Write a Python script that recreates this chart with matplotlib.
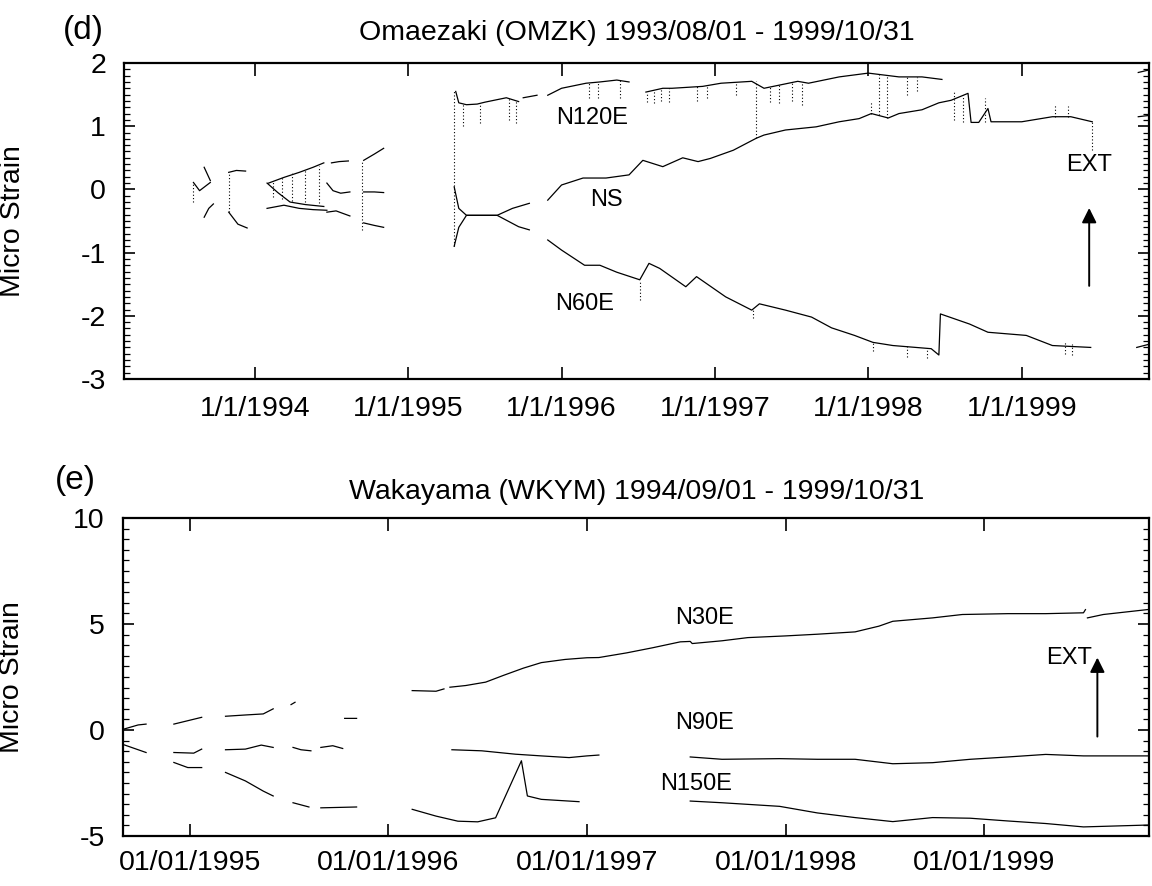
import numpy as np
import matplotlib
matplotlib.use("Agg")
import matplotlib.pyplot as plt
from matplotlib.ticker import MultipleLocator, FixedLocator

plt.rcParams['font.family'] = ['Liberation Sans', 'DejaVu Sans']
plt.rcParams['axes.unicode_minus'] = False

nan = np.nan

# ---- (d) Omaezaki, x in decimal years, gaps = nan
omzk_n120e_year = [1993.67, 1993.71, nan, 1993.83, 1993.88, 1993.94, nan,
                   1994.09, 1994.19, 1994.29, 1994.38, 1994.45, nan,
                   1994.50, 1994.55, 1994.61, nan,
                   1994.71, 1994.78, 1994.84, nan,
                   1995.31, 1995.33, 1995.38, 1995.45, 1995.50, 1995.64, 1995.72, nan,
                   1995.75, 1995.84, nan,
                   1995.91, 1996.00, 1996.16, 1996.25, 1996.36, 1996.44, nan,
                   1996.55, 1996.66, 1996.72, 1996.92, 1997.04,
                   1997.24, 1997.32, 1997.54, 1997.61, 1997.81, 1998.00, 1998.20, 1998.35, 1998.48, nan,
                   1999.76, 1999.83]
omzk_n120e_val = [0.35, 0.14, nan, 0.27, 0.30, 0.29, nan,
                  0.10, 0.19, 0.27, 0.35, 0.42, nan,
                  0.42, 0.44, 0.45, nan,
                  0.46, 0.56, 0.65, nan,
                  1.55, 1.37, 1.34, 1.35, 1.38, 1.45, 1.39, nan,
                  1.45, 1.49, nan,
                  1.49, 1.60, 1.68, 1.70, 1.73, 1.70, nan,
                  1.54, 1.60, 1.60, 1.63, 1.68,
                  1.71, 1.60, 1.71, 1.68, 1.78, 1.84, 1.78, 1.78, 1.74, nan,
                  1.85, 1.89]

omzk_ns_year = [1993.60, 1993.64, 1993.71, nan,
                1994.08, 1994.15, 1994.23, 1994.33, 1994.45, nan,
                1994.47, 1994.51, 1994.56, 1994.62, nan,
                1994.71, 1994.78, 1994.84, nan,
                1995.30, 1995.33, 1995.38, 1995.58, 1995.68, 1995.79, nan,
                1995.91, 1996.00, 1996.14, 1996.29, 1996.44, 1996.53, 1996.66, 1996.79, 1996.89,
                1996.97, 1997.12, 1997.27, 1997.32, 1997.46, 1997.66, 1997.81, 1997.94, 1998.02,
                1998.13, 1998.20, 1998.35, 1998.46, 1998.54, 1998.65, 1998.67, 1998.72, 1998.78,
                1998.80, 1998.85, 1999.00, 1999.20, 1999.32, 1999.46, nan,
                1999.76, 1999.83]
omzk_ns_val = [0.11, -0.02, 0.11, nan,
               0.10, -0.05, -0.20, -0.24, -0.27, nan,
               0.10, -0.02, -0.06, -0.04, nan,
               -0.04, -0.04, -0.05, nan,
               0.04, -0.30, -0.41, -0.41, -0.30, -0.22, nan,
               -0.17, 0.07, 0.18, 0.18, 0.23, 0.46, 0.36, 0.50, 0.44,
               0.49, 0.62, 0.81, 0.86, 0.94, 0.99, 1.07, 1.12, 1.20,
               1.13, 1.20, 1.26, 1.37, 1.41, 1.52, 1.06, 1.06, 1.28,
               1.07, 1.07, 1.07, 1.15, 1.15, 1.07, nan,
               1.15, 1.17]

omzk_n60e_year = [1993.67, 1993.70, 1993.73, nan,
                  1993.83, 1993.89, 1993.95, nan,
                  1994.08, 1994.19, 1994.29, 1994.38, 1994.47, nan,
                  1994.47, 1994.53, 1994.62, nan,
                  1994.71, 1994.78, 1994.84, nan,
                  1995.30, 1995.33, 1995.38, 1995.58, 1995.72, 1995.79, nan,
                  1995.91, 1996.00, 1996.15, 1996.25, 1996.36, 1996.51, 1996.57, 1996.64, 1996.81,
                  1996.88, 1997.07, 1997.24, 1997.29, 1997.46, 1997.63, 1997.76, 1997.91, 1998.03,
                  1998.16, 1998.41, 1998.46, 1998.47, 1998.66, 1998.78, 1999.03, 1999.20, 1999.45, nan,
                  1999.75, 1999.83]
omzk_n60e_val = [-0.44, -0.30, -0.23, nan,
                 -0.36, -0.55, -0.61, nan,
                 -0.30, -0.25, -0.30, -0.32, -0.33, nan,
                 -0.36, -0.34, -0.42, nan,
                 -0.53, -0.57, -0.60, nan,
                 -0.90, -0.60, -0.41, -0.41, -0.59, -0.64, nan,
                 -0.80, -0.96, -1.20, -1.20, -1.31, -1.43, -1.17, -1.25, -1.54,
                 -1.38, -1.70, -1.91, -1.81, -1.91, -2.02, -2.19, -2.31, -2.42,
                 -2.47, -2.52, -2.62, -1.97, -2.13, -2.26, -2.31, -2.47, -2.50, nan,
                 -2.50, -2.45]

# short dotted spikes (year, from, to)
omzk_spike_year = [1993.60, 1993.83, 1994.12, 1994.18, 1994.24, 1994.33, 1994.42, 1994.70,
                   1995.30, 1995.36, 1995.47, 1995.66, 1995.70, 1996.18, 1996.24, 1996.38,
                   1996.56, 1996.60, 1996.65, 1996.70, 1996.88, 1996.95, 1997.14, 1997.27,
                   1997.36, 1997.42, 1997.50, 1997.57, 1998.07, 1998.12, 1998.25, 1998.32,
                   1996.51, 1997.25, 1998.03, 1998.25, 1998.38, 1999.28, 1999.33,
                   1998.02, 1998.56, 1998.62, 1998.76, 1999.22, 1999.30, 1999.46]
omzk_spike_top = [0.10, 0.27, 0.14, 0.22, 0.27, 0.32, 0.37, 0.46,
                  1.55, 1.37, 1.37, 1.45, 1.42, 1.68, 1.70, 1.73,
                  1.54, 1.57, 1.60, 1.60, 1.63, 1.65, 1.69, 1.71,
                  1.62, 1.66, 1.70, 1.70, 1.84, 1.80, 1.78, 1.78,
                  -1.43, -1.91, -2.42, -2.48, -2.52, -2.40, -2.45,
                  1.40, 1.55, 1.50, 1.45, 1.35, 1.32, 1.07]
omzk_spike_bot = [-0.20, -0.36, -0.12, -0.15, -0.18, -0.20, -0.22, -0.65,
                  -0.90, 1.00, 1.05, 1.10, 1.05, 1.44, 1.45, 1.44,
                  1.38, 1.36, 1.40, 1.39, 1.40, 1.45, 1.50, 0.81,
                  1.38, 1.36, 1.40, 1.34, 1.18, 1.13, 1.50, 1.55,
                  -1.75, -2.04, -2.55, -2.65, -2.66, -2.60, -2.62,
                  1.20, 1.10, 1.06, 1.07, 1.15, 1.15, 0.62]

# ---- (e) Wakayama
wkym_n30e_year = [1994.67, 1994.74, 1994.78, nan, 1994.92, 1994.99, 1995.06, nan,
                  1995.18, 1995.28, 1995.37, 1995.42, nan, 1995.51, 1995.53, nan,
                  1995.78, 1995.84, nan, 1996.12, 1996.24, 1996.28, nan,
                  1996.31, 1996.39, 1996.49, 1996.58, 1996.68, 1996.77, 1996.89, 1997.00,
                  1997.06, 1997.20, 1997.33, 1997.47, 1997.52, 1997.53, 1997.68, 1997.81,
                  1998.00, 1998.16, 1998.35, 1998.47, 1998.54, 1998.74, 1998.89, 1999.12,
                  1999.31, 1999.50, 1999.51, nan, 1999.52, 1999.60, 1999.83]
wkym_n30e_val = [0.05, 0.24, 0.28, nan, 0.28, 0.44, 0.60, nan,
                 0.65, 0.71, 0.76, 1.00, nan, 1.20, 1.31, nan,
                 0.55, 0.55, nan, 1.86, 1.83, 1.94, nan,
                 2.02, 2.10, 2.26, 2.58, 2.92, 3.18, 3.33, 3.41,
                 3.42, 3.64, 3.88, 4.16, 4.18, 4.08, 4.21, 4.36,
                 4.44, 4.52, 4.63, 4.90, 5.13, 5.29, 5.45, 5.49,
                 5.49, 5.53, 5.68, nan, 5.29, 5.45, 5.69]

wkym_n90e_year = [1994.67, 1994.78, nan, 1994.92, 1995.02, 1995.06, nan,
                  1995.18, 1995.28, 1995.36, 1995.42, nan, 1995.52, 1995.56, 1995.61, nan,
                  1995.66, 1995.72, 1995.77, nan,
                  1996.32, 1996.47, 1996.64, 1996.77, 1996.91, 1997.00, 1997.06, nan,
                  1997.52, 1997.68, 1997.97, 1998.16, 1998.35, 1998.54, 1998.74, 1998.93,
                  1999.12, 1999.31, 1999.50, 1999.83]
wkym_n90e_val = [-0.70, -1.06, nan, -1.06, -1.09, -0.90, nan,
                 -0.93, -0.90, -0.71, -0.82, nan, -0.82, -0.93, -0.98, nan,
                 -0.82, -0.74, -0.87, nan,
                 -0.93, -0.98, -1.14, -1.22, -1.30, -1.22, -1.18, nan,
                 -1.27, -1.38, -1.35, -1.38, -1.38, -1.59, -1.54, -1.38,
                 -1.27, -1.15, -1.22, -1.22]

wkym_n150e_year = [1994.92, 1994.99, 1995.06, nan, 1995.18, 1995.28, 1995.37, 1995.42, nan,
                   1995.52, 1995.60, nan, 1995.66, 1995.84, nan,
                   1996.12, 1996.24, 1996.35, 1996.45, 1996.54, 1996.67, 1996.70, 1996.77, 1996.96, nan,
                   1997.52, 1997.68, 1997.97, 1998.16, 1998.35, 1998.54, 1998.74, 1998.93,
                   1999.12, 1999.31, 1999.50, 1999.83]
wkym_n150e_val = [-1.53, -1.77, -1.77, nan, -2.00, -2.40, -2.88, -3.11, nan,
                  -3.43, -3.63, nan, -3.67, -3.63, nan,
                  -3.74, -4.06, -4.30, -4.33, -4.14, -1.45, -3.11, -3.27, -3.38, nan,
                  -3.35, -3.43, -3.60, -3.91, -4.13, -4.32, -4.13, -4.16,
                  -4.29, -4.41, -4.57, -4.48]

omzk_years = [1994, 1995, 1996, 1997, 1998, 1999]
omzk_labels = ['1/1/1994', '1/1/1995', '1/1/1996', '1/1/1997', '1/1/1998', '1/1/1999']
wkym_years = [1995, 1996, 1997, 1998, 1999]
wkym_labels = ['01/01/1995', '01/01/1996', '01/01/1997', '01/01/1998', '01/01/1999']

FS = 20.5

fig = plt.figure(figsize=(11.52, 8.86), dpi=100)
ax1 = fig.add_axes([0.1076, 0.5722, 0.8898, 0.3567])
ax2 = fig.add_axes([0.1068, 0.0564, 0.8906, 0.3589])


def style_axes(ax, years, labels, minor, xpad):
    for s in ax.spines.values():
        s.set_linewidth(1.6)
    ax.xaxis.set_major_locator(FixedLocator(years))
    ax.set_xticklabels(labels)
    ax.yaxis.set_minor_locator(MultipleLocator(minor))
    ax.tick_params(which='both', direction='in', top=True, right=True, labelsize=FS)
    ax.tick_params(axis='x', which='major', length=9, width=1.2, pad=xpad)
    ax.tick_params(axis='y', which='major', length=8, width=1.2, pad=13)
    ax.tick_params(axis='y', which='minor', length=4, width=0.9)
    ax.set_ylabel('Micro Strain', fontsize=FS)
    ax.yaxis.set_label_coords(-0.096, 0.5)


lw = 0.9
ax1.plot(omzk_n120e_year, omzk_n120e_val, color='black', lw=lw)
ax1.plot(omzk_ns_year, omzk_ns_val, color='black', lw=lw)
ax1.plot(omzk_n60e_year, omzk_n60e_val, color='black', lw=lw)
ax1.vlines(omzk_spike_year, omzk_spike_bot, omzk_spike_top, colors='black',
           linestyles=(0, (1, 2)), lw=0.8)
ax1.set_xlim(1993.147, 1999.83)
ax1.set_ylim(-3, 2)
ax1.yaxis.set_major_locator(MultipleLocator(1))
style_axes(ax1, omzk_years, omzk_labels, 0.1, 12)
ax1.text(1996.2, 1.13, 'N120E', fontsize=17, ha='center', va='center')
ax1.text(1996.29, -0.17, 'NS', fontsize=17, ha='center', va='center')
ax1.text(1996.15, -1.81, 'N60E', fontsize=17, ha='center', va='center')
ax1.text(1999.44, 0.39, 'EXT', fontsize=17, ha='center', va='center')
ax1.annotate('', xy=(1999.44, -0.25), xytext=(1999.44, -1.57),
             arrowprops=dict(arrowstyle='-|>', color='black', lw=1.4, mutation_scale=22))
fig.text(0.5525, 0.963, 'Omaezaki (OMZK) 1993/08/01 - 1999/10/31', fontsize=FS,
         ha='center', va='center')
fig.text(0.072, 0.966, '(d)', fontsize=24, ha='center', va='center')

ax2.plot(wkym_n30e_year, wkym_n30e_val, color='black', lw=lw)
ax2.plot(wkym_n90e_year, wkym_n90e_val, color='black', lw=lw)
ax2.plot(wkym_n150e_year, wkym_n150e_val, color='black', lw=lw)
ax2.set_xlim(1994.664, 1999.83)
ax2.set_ylim(-5, 10)
ax2.yaxis.set_major_locator(MultipleLocator(5))
style_axes(ax2, wkym_years, wkym_labels, 0.5, 10)
ax2.text(1997.59, 5.29, 'N30E', fontsize=17, ha='center', va='center')
ax2.text(1997.59, 0.35, 'N90E', fontsize=17, ha='center', va='center')
ax2.text(1997.55, -2.56, 'N150E', fontsize=17, ha='center', va='center')
ax2.text(1999.545, 3.4, 'EXT', fontsize=17, ha='right', va='center')
ax2.annotate('', xy=(1999.57, 3.55), xytext=(1999.57, -0.44),
             arrowprops=dict(arrowstyle='-|>', color='black', lw=1.4, mutation_scale=22))
fig.text(0.5525, 0.4447, 'Wakayama (WKYM) 1994/09/01 - 1999/10/31', fontsize=FS,
         ha='center', va='center')
fig.text(0.065, 0.458, '(e)', fontsize=24, ha='center', va='center')

fig.savefig('out.png', dpi=100)
